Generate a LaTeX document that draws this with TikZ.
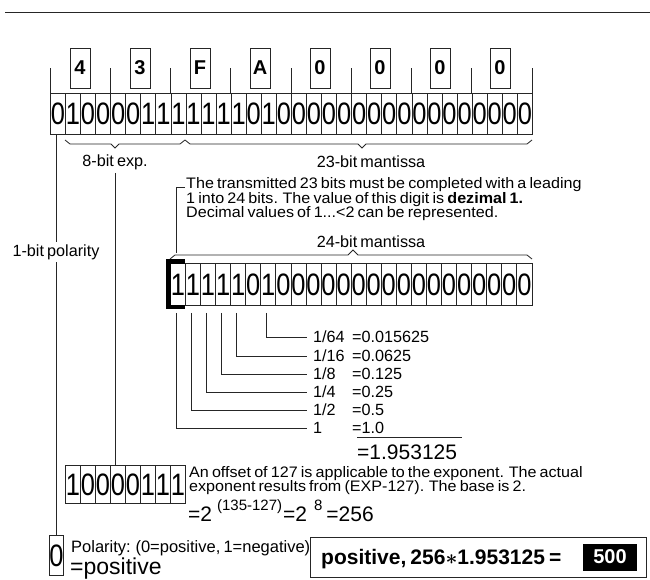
\documentclass[tikz,border=0pt]{standalone}
\usepackage{fontspec}
\setmainfont{Liberation Sans}
\newfontfamily\mf{Liberation Sans}[WordSpace=0.7]
\newfontfamily\pf{Liberation Sans}[WordSpace=0.7,FakeStretch=1.06]
\newfontfamily\df{Liberation Sans}[FakeStretch=0.82]
\usetikzlibrary{calc}
\begin{document}
\begin{tikzpicture}[x=1pt,y=-1pt,
  ln/.style={line width=0.8pt, draw=black!85},
  cell/.style={draw=black!85, line width=0.8pt, anchor=north west, minimum width=15.0625pt, minimum height=41pt, inner sep=0pt, font=\df\fontsize{31}{31}\selectfont},
  hexbox/.style={draw=black!85, line width=0.8pt, minimum width=20pt, minimum height=40pt, inner sep=0pt, font=\mf\bfseries\fontsize{20}{20}\selectfont},
  txt/.style={inner sep=0pt, font=\mf\fontsize{16.2}{16.2}\selectfont},
  btxt/.style={txt, anchor=base west},
  ltxt/.style={inner sep=0pt, anchor=base west, font=\pf\fontsize{15.2}{15.2}\selectfont, text height=9.5pt, text depth=2.5pt},
  big/.style={inner sep=0pt, anchor=base west, font=\mf\fontsize{21}{21}\selectfont}
]
\useasboundingbox (0,0) rectangle (650,579);
% top rule
\draw[ln] (5,12) -- (650,12);
% 32-bit row
\foreach \d [count=\k from 0] in {0,1,0,0,0,0,1,1,1,1,1,1,1,0,1,0,0,0,0,0,0,0,0,0,0,0,0,0,0,0,0,0}
  \node[cell] (t\k) at ({50+\k*15.0625},93) {\d};
% hex digits
\foreach \h [count=\k from 0] in {4,3,F,A,0,0,0,0}
  \node[hexbox] (h\k) at ({80+60*\k},68) {\h};
\foreach \k in {0,4,...,28}
  \draw[ln] (t\k.north west) -- ++(0,-25);
\draw[ln] (t31.north east) -- ++(0,-25);
% braces below the row
\draw[ln] (65,140) -- (70,144) -- (111,144) -- (115,148) -- (119,144) -- (180,144) -- (185,140);
\draw[ln] (185,140) -- (190,144) -- (358,144) -- (362,148) -- (366,144) -- (527,144) -- (532,140);
\node[txt] (lexp) at (115,162) {8-bit exp.};
\node[txt] (lman) at (371,162) {23-bit mantissa};
% paragraph
\node[ltxt] (p1) at (186,188.5) {The transmitted 23 bits must be completed with a leading};
\node[ltxt] (p2) at (186,203) {1 into 24 bits. The value of this digit is \textbf{dezimal 1.}};
\node[ltxt] (p3) at (186,217.5) {Decimal values of 1...<2 can be represented.};
\draw[ln] ([xshift=-1pt,yshift=1pt]p1.base west) -| (176,253);
% 24-bit mantissa
\node[txt] (l24) at (371,242) {24-bit mantissa};
\draw[ln] (170,259) -- (175,255) -- (348,255) -- (353,250) -- (358,255) -- (527,255) -- (532,259);
\foreach \d [count=\k from 0] in {1,1,1,1,1,0,1,0,0,0,0,0,0,0,0,0,0,0,0,0,0,0,0,0}
  \node[cell, minimum height=42pt] (m\k) at ({170+\k*15.0625},263) {\d};
\draw[line width=4.5pt, miter limit=10] (185,261.5) -- (168.5,261.5) -- (168.5,307) -- (185,307);
% fractions
\node[txt, anchor=west] (f6) at (313,337) {1/64};
\node[txt, anchor=west] (v6) at (352,337) {=0.015625};
\node[txt, anchor=west] (f4) at (313,356) {1/16};
\node[txt, anchor=west] (v4) at (352,356) {=0.0625};
\node[txt, anchor=west] (f3) at (313,374) {1/8};
\node[txt, anchor=west] (v3) at (352,374) {=0.125};
\node[txt, anchor=west] (f2) at (313,392) {1/4};
\node[txt, anchor=west] (v2) at (352,392) {=0.25};
\node[txt, anchor=west] (f1) at (313,410) {1/2};
\node[txt, anchor=west] (v1) at (352,410) {=0.5};
\node[txt, anchor=west] (f0) at (313,428) {1};
\node[txt, anchor=west] (v0) at (352,428) {=1.0};
\foreach \k in {0,1,2,3,4,6}
  \draw[ln] ([xshift=-1.5pt,yshift=-7pt]m\k.south) |- ([xshift=-6pt]f\k.west);
\draw[ln] (357,437) -- (462,437);
\node[big] (tot) at (357,459) {=1.953125};
% exponent
\foreach \d [count=\k from 0] in {1,0,0,0,0,1,1,1}
  \node[cell, minimum width=15pt, minimum height=38pt] (e\k) at ({65+15*\k},465) {\d};
\draw[ln] ([yshift=-3pt]lexp.south) -- (lexp.south |- e0.north);
\node[ltxt] (x1) at (189,477) {An offset of 127 is applicable to the exponent. The actual};
\node[ltxt] (x2) at (189,491.5) {exponent results from (EXP-127). The base is 2.};
\node[big] (x3) at (188,521) {=2\hspace{5pt}\raisebox{11pt}{\fontsize{15}{15}\selectfont (135-127)}\hspace{1pt}=2\hspace{7pt}\raisebox{11pt}{\fontsize{15}{15}\selectfont 8}\hspace{4pt}=256};
% polarity
\node[cell, minimum width=14pt, minimum height=40pt] (s) at (49,535) {0};
\draw[ln] (s.north) -- (s.north |- t0.south);
\node[txt, fill=white, inner sep=2pt] (lpol) at (56,252) {1-bit polarity};
\node[btxt, font=\mf\fontsize{16.5}{16.5}\selectfont, text height=10pt, text depth=3pt] (pt) at (71,552) {Polarity: (0=positive, 1=negative)};
\node[big, font=\mf\fontsize{23}{23}\selectfont, text height=12pt] (pp) at (70,574) {=positive};
% result
\node[draw=black!85, line width=0.8pt, anchor=north west, minimum width=336pt, minimum height=40pt, inner sep=0pt] (res) at (310,537) {};
\node[big, font=\mf\bfseries\fontsize{21}{21}\selectfont] (rt) at (321,564) {positive, 256{\boldmath$\ast$}1.953125 =};
\node[fill=black, text=white, inner sep=0pt, minimum width=54pt, minimum height=27pt, font=\mf\bfseries\fontsize{20}{20}\selectfont] (r500) at (610,557) {500};
\end{tikzpicture}
\end{document}
